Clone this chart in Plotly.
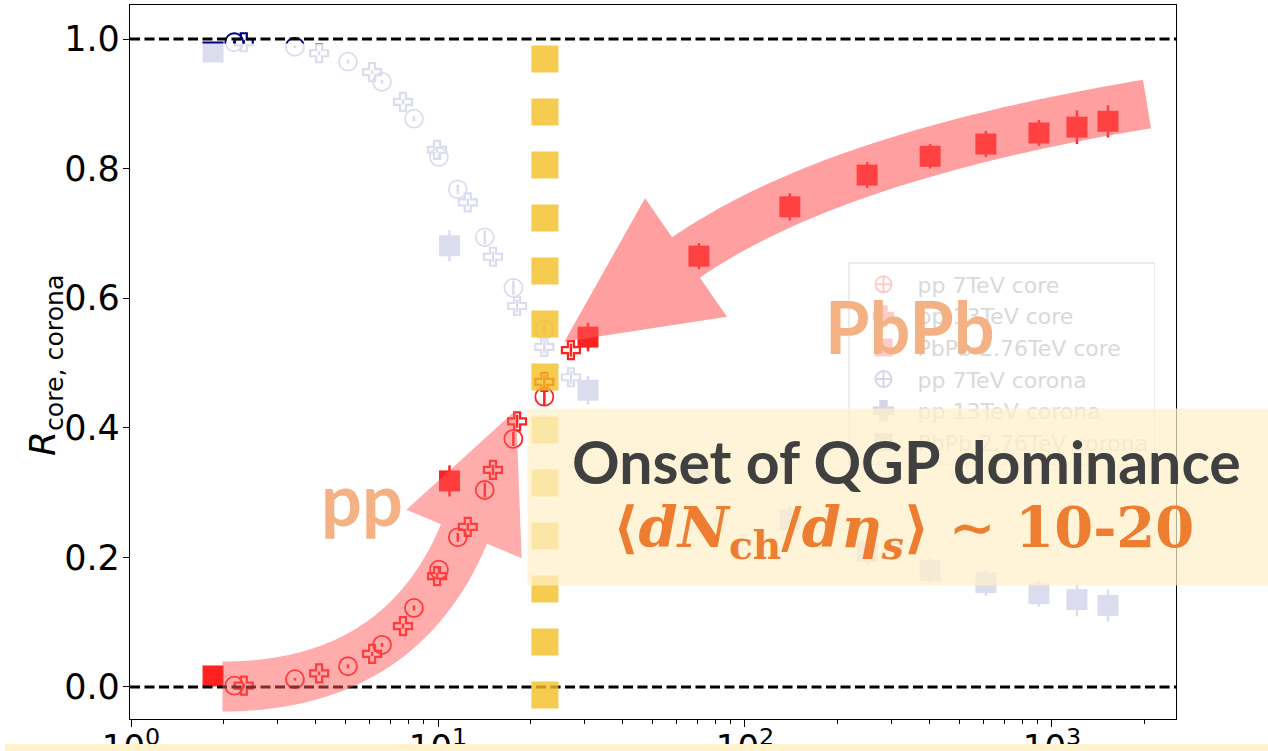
import numpy as np
import plotly.graph_objects as go

# ---------------- data ----------------
x_pp7 = [2.17, 3.42, 5.09, 6.57, 8.35, 10.07, 11.6, 14.2, 17.6, 22.2]
pp7_core = [0.002, 0.012, 0.032, 0.065, 0.122, 0.181, 0.231, 0.304, 0.383, 0.448]
pp7_corona = [0.995, 0.988, 0.965, 0.934, 0.877, 0.818, 0.768, 0.694, 0.616, 0.551]
pp7_err = [0.002, 0.002, 0.003, 0.003, 0.004, 0.005, 0.007, 0.011, 0.011, 0.013]

x_pp13 = [2.33, 4.10, 6.10, 7.69, 9.93, 12.5, 15.1, 18.1, 22.2, 27.1]
pp13_core = [0.002, 0.021, 0.051, 0.094, 0.171, 0.247, 0.335, 0.410, 0.471, 0.520]
pp13_corona = [0.995, 0.978, 0.949, 0.903, 0.829, 0.748, 0.664, 0.588, 0.525, 0.478]
pp13_err = [0.003, 0.003, 0.003, 0.004, 0.005, 0.006, 0.008, 0.010, 0.010, 0.010]

x_pbpb = [1.85, 10.9, 30.8, 70.8, 140, 250, 401, 609, 907, 1206, 1522]
pbpb_core = [0.017, 0.318, 0.540, 0.665, 0.741, 0.790, 0.819, 0.838, 0.855, 0.864, 0.873]
pbpb_corona = [0.980, 0.681, 0.458, 0.334, 0.258, 0.209, 0.180, 0.161, 0.144, 0.135, 0.126]
pbpb_err = [0.004, 0.024, 0.022, 0.020, 0.021, 0.020, 0.019, 0.020, 0.020, 0.026, 0.025]

legend_names = ["pp 7TeV core", "pp 13TeV core", "PbPb 2.76TeV core",
                "pp 7TeV corona", "pp 13TeV corona", "PbPb 2.76TeV corona"]
x_tick_vals = [1, 10, 100, 1000]
x_tick_text = ["10<sup>0</sup>", "10<sup>1</sup>", "10<sup>2</sup>", "10<sup>3</sup>"]
y_tick_vals = [0.0, 0.2, 0.4, 0.6, 0.8, 1.0]
ref_levels = [0.0, 1.0]
onset_x = 22.3

# ---------------- geometry ----------------
W, H = 1268, 751
L, R, T, B = 130, 1176, 5, 719
XR = [-0.0033, 3.404]
YR = [-0.0494, 1.0525]


def px2paper(px, py):
    return (px - L) / (R - L), (B - py) / (B - T)


RED = "#ff2020"
LAV = "#dcdcef"
NAVY = "#00008b"

fig = go.Figure()


def add_series(x, y, e, symbol, color, size, lw, xa="x", ya="y"):
    filled = not symbol.endswith("open")
    fig.add_trace(go.Scatter(
        x=x, y=y, mode="markers", showlegend=False, xaxis=xa, yaxis=ya,
        cliponaxis=True,
        marker=dict(symbol=symbol, size=size, color=color,
                    line=dict(color=color, width=0 if filled else lw)),
        error_y=dict(type="data", array=e, visible=True, color=color,
                     thickness=2.5, width=0),
        hoverinfo="skip"))


# corona (faded) then core
add_series(x_pp7, pp7_corona, pp7_err, "circle-open", LAV, 18, 1.8)
add_series(x_pp13, pp13_corona, pp13_err, "cross-open", LAV, 15, 2.2)
add_series(x_pbpb, pbpb_corona, pbpb_err, "square", LAV, 21, 0)
add_series(x_pp7, pp7_core, pp7_err, "circle-open", RED, 18, 1.8)
add_series(x_pp13, pp13_core, pp13_err, "cross-open", RED, 15, 2.2)
add_series(x_pbpb, pbpb_core, pbpb_err, "square", RED, 21, 0)

# navy strip above the faded overlay (top part of the plot only)
strip_dom = (B - 43.5) / (B - T)
y2lo = YR[0] + (YR[1] - YR[0]) * strip_dom
add_series(x_pp7, pp7_corona, pp7_err, "circle-open", NAVY, 18, 1.8, "x2", "y2")
add_series(x_pp13, pp13_corona, pp13_err, "cross-open", NAVY, 15, 2.2, "x2", "y2")
add_series(x_pbpb, pbpb_corona, pbpb_err, "square", NAVY, 21, 0, "x2", "y2")

# faded legend entries
leg_sym = ["circle-cross-open", "cross", "square", "circle-cross-open", "cross", "square"]
leg_col = ["#ffcaca"] * 3 + ["#d6d6ea"] * 3
for nm, sy, co in zip(legend_names, leg_sym, leg_col):
    fig.add_trace(go.Scatter(x=[None], y=[None], mode="markers", name=nm,
                             marker=dict(symbol=sy, size=16, color=co,
                                         line=dict(color=co, width=2))))

# ---------------- shapes ----------------
shapes = []
for lv in ref_levels:
    shapes.append(dict(type="line", xref="paper", yref="y", x0=0, x1=1, y0=lv, y1=lv,
                       line=dict(color="black", width=3, dash="10px,4.5px"), layer="above"))
shapes.append(dict(type="line", xref="x", yref="y", x0=onset_x, x1=onset_x,
                   y0=0.99, y1=-0.034,
                   line=dict(color="rgba(242,190,36,0.8)", width=27, dash="27px,26px"),
                   layer="above"))


def arrow_path(p0, p1, p2, half, head_half, head_len, n=48):
    p0, p1, p2 = map(np.asarray, (p0, p1, p2))
    t = np.linspace(0, 1, n)[:, None]
    pts = (1 - t) ** 2 * p0 + 2 * (1 - t) * t * p1 + t ** 2 * p2
    der = 2 * (1 - t) * (p1 - p0) + 2 * t * (p2 - p1)
    tang = der / np.linalg.norm(der, axis=1)[:, None]
    nrm = np.stack([-tang[:, 1], tang[:, 0]], axis=1)
    e1 = pts + half * nrm
    e2 = pts - half * nrm
    te, ne = tang[-1], nrm[-1]
    c1 = p2 + head_half * ne
    c2 = p2 - head_half * ne
    tip = p2 + head_len * te
    poly = list(e1) + [c1, tip, c2] + list(e2[::-1])
    s = ""
    for i, (px, py) in enumerate(poly):
        xp, yp = px2paper(px, py)
        s += ("M" if i == 0 else "L") + f"{xp:.5f},{yp:.5f} "
    return s + "Z"


shapes.append(dict(type="path", xref="paper", yref="paper", layer="above",
                   path=arrow_path((1147, 104), (832, 156.5), (686, 257.5), 24.5, 72, 148),
                   fillcolor="rgba(255,90,90,0.58)", line=dict(width=0)))
shapes.append(dict(type="path", xref="paper", yref="paper", layer="above",
                   path=arrow_path((222.5, 686.5), (400, 686.5), (464, 534), 25, 62.5, 134.5),
                   fillcolor="rgba(255,90,90,0.5)", line=dict(width=0)))

bx0, by0 = px2paper(5, 751 + 5)
bx1, by1 = px2paper(1275, 744)
shapes.append(dict(type="rect", xref="paper", yref="paper", x0=bx0, x1=bx1, y0=by0, y1=by1,
                   fillcolor="#fff2cc", line=dict(width=0), layer="above"))

# ---------------- annotations ----------------
ann = []


def add_text(px, py, text, size, color, family, xanchor="center", yanchor="middle", **kw):
    xp, yp = px2paper(px, py)
    ann.append(dict(xref="paper", yref="paper", x=xp, y=yp, text=text, showarrow=False,
                    xanchor=xanchor, yanchor=yanchor,
                    font=dict(size=size, color=color, family=family), **kw))


add_text(45, 366, "<i>R</i><sub>core, corona</sub>", 36, "black", "DejaVu Sans", textangle=-90)
add_text(362, 498, "<b>pp</b>", 72, "#f4b183", "Lato")
add_text(910, 326, "<b>PbPb</b>", 72, "#f4b183", "Lato")
add_text(527, 408, " ", 10, "black", "DejaVu Sans", xanchor="left", yanchor="top",
         width=760, height=176, bgcolor="rgba(255,240,200,0.72)", borderpad=0)
add_text(906, 462, "<b>Onset of QGP dominance</b>", 59, "#404040", "Lato")
add_text(903, 531, "<b>⟨<i>dN</i><sub>ch</sub>/<i>dη<sub>s</sub></i>⟩ ∼ 10-20</b>", 56,
         "#ed7d31", "DejaVu Serif")

lx, ly = px2paper(848, 262)

fig.update_layout(
    template="none",
    width=W, height=H,
    margin=dict(l=L, r=W - R, t=T, b=H - B, pad=0, autoexpand=False),
    paper_bgcolor="white", plot_bgcolor="rgba(0,0,0,0)",
    font=dict(family="DejaVu Sans", color="black"),
    showlegend=True,
    legend=dict(x=lx, y=ly, xanchor="left", yanchor="top",
                bgcolor="rgba(255,255,255,0)", bordercolor="#ececec", borderwidth=1.5,
                font=dict(size=22, color="#d9d9d9", family="DejaVu Sans"),
                itemwidth=58),
    xaxis=dict(type="log", range=XR, domain=[0, 1], anchor="y", automargin=False,
               tickmode="array", tickvals=x_tick_vals, ticktext=x_tick_text,
               ticks="outside", ticklen=7, tickwidth=1.3, tickcolor="black",
               showline=True, linecolor="black", linewidth=1.3, mirror=True,
               showgrid=False, zeroline=False, ticklabelstandoff=-9,
               tickfont=dict(size=34, family="DejaVu Sans"),
               minor=dict(ticks="outside", ticklen=4, tickwidth=1, tickcolor="black",
                          dtick="D1", showgrid=False)),
    yaxis=dict(range=YR, domain=[0, 1], anchor="x", automargin=False,
               tickmode="array", tickvals=y_tick_vals, tickformat=".1f",
               ticks="outside", ticklen=6, tickwidth=1.3, tickcolor="black",
               showline=True, linecolor="black", linewidth=1.3, mirror=True,
               showgrid=False, zeroline=False, ticklabelstandoff=-4,
               tickfont=dict(size=35, family="DejaVu Sans")),
    xaxis2=dict(type="log", range=XR, domain=[0, 1], anchor="y2", visible=False,
                automargin=False),
    yaxis2=dict(range=[y2lo, YR[1]], domain=[strip_dom, 1], anchor="x2", visible=False,
                automargin=False),
    shapes=shapes,
    annotations=ann,
)

fig.write_html("out.html", config={"displayModeBar": False},
               post_script="document.body.style.margin='0';document.body.style.padding='0';")
